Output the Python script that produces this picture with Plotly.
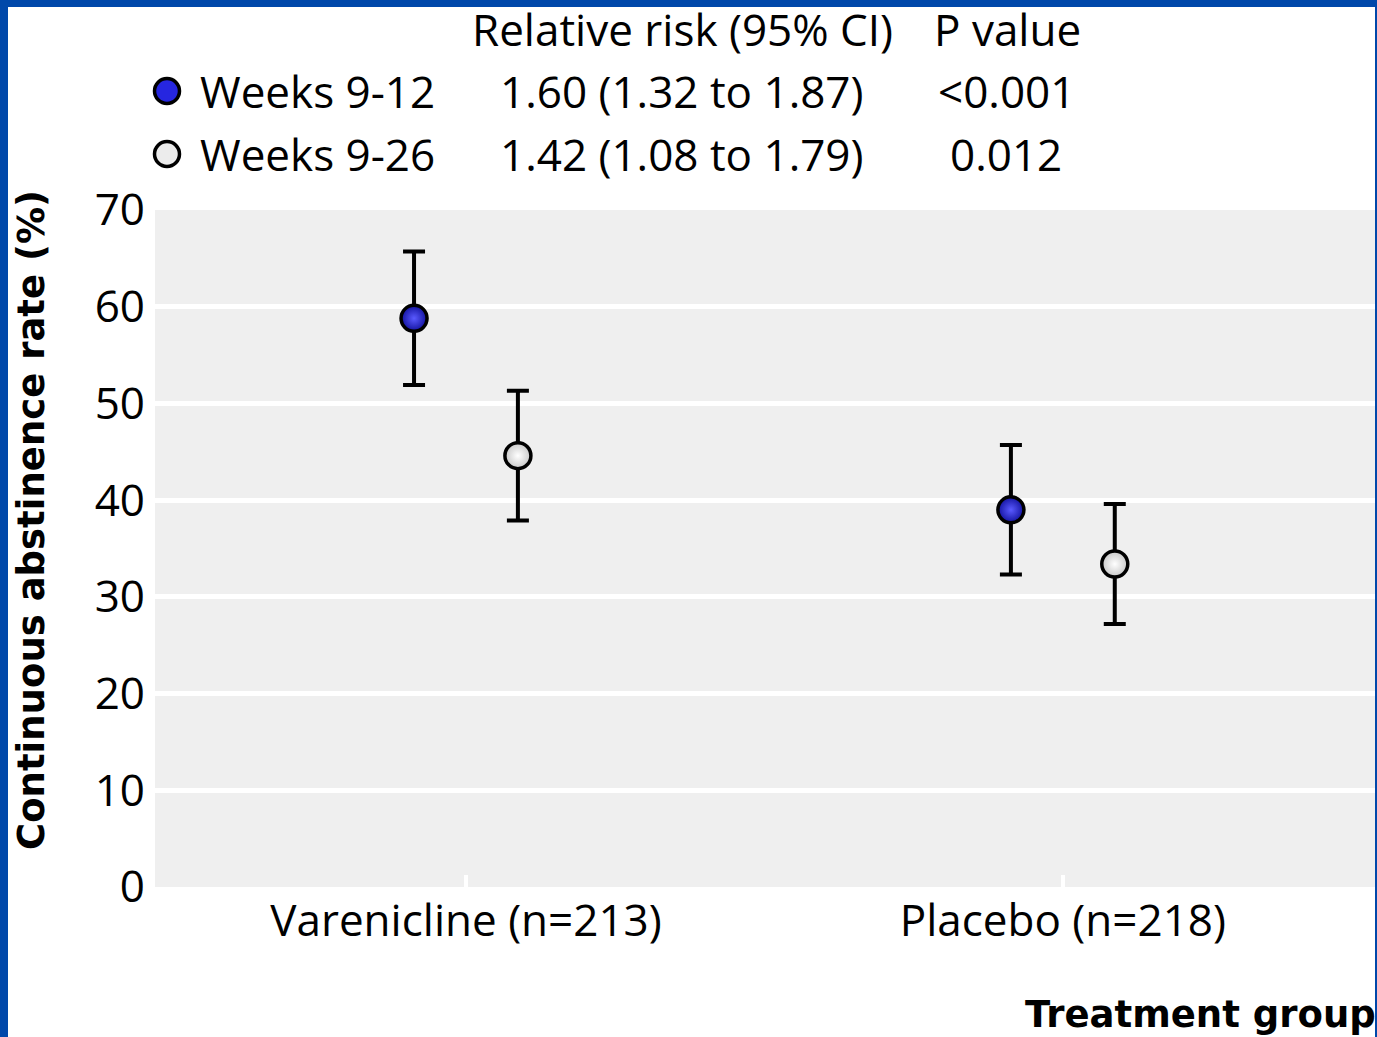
import plotly.graph_objects as go

# ---- data -------------------------------------------------------------
groups = ["Varenicline (n=213)", "Placebo (n=218)"]
series = ["Weeks 9-12", "Weeks 9-26"]
rate_9_12 = [58.8, 39.0]
ci_9_12 = [6.9, 6.7]
rate_9_26 = [44.6, 33.4]
ci_9_26 = [6.7, 6.2]
rr_text = ["1.60 (1.32 to 1.87)", "1.42 (1.08 to 1.79)"]
p_text = ["<0.001", "0.012"]
y_ticks = [0, 10, 20, 30, 40, 50, 60, 70]

# ---- page geometry (pixels) ------------------------------------------
W, H = 1377, 1037
L, R, T, B = 155, 2, 210, 150
PW, PH = W - L - R, H - T - B


def px(x):
    return (x - L) / PW


def py(y):
    return (H - B - y) / PH


TEXT_FONT = "Open Sans"
BOLD_FONT = "DejaVu Sans"
TEXT_SIZE = 44
BORDER = "#0048aa"
dodge = 0.087

# radial shading: edge colour on the marker, highlight in the centre
styles = [
    dict(edge="#12129e", center="#5a5aff", key="#2626e0"),
    dict(edge="#c8c8c8", center="#ffffff", key="#ececec"),
]

fig = go.Figure()
for k, (name, vals, errs) in enumerate(
    [(series[0], rate_9_12, ci_9_12), (series[1], rate_9_26, ci_9_26)]
):
    off = -dodge if k == 0 else dodge
    fig.add_trace(
        go.Scatter(
            x=[i + off for i in range(len(groups))],
            y=vals,
            name=name,
            mode="markers",
            error_y=dict(type="data", array=errs, visible=True,
                         color="black", thickness=4, width=11),
            marker=dict(size=26, color=styles[k]["edge"],
                        gradient=dict(type="radial", color=styles[k]["center"]),
                        line=dict(color="black", width=3.5)),
            showlegend=False,
        )
    )

annotations = []
# header table above the plot
annotations.append(dict(x=px(682), y=py(29), text="Relative risk (95% CI)",
                        xanchor="center", yanchor="middle"))
annotations.append(dict(x=px(1007), y=py(29), text="P value",
                        xanchor="center", yanchor="middle"))
row_y = [91, 154]
for k in range(2):
    annotations.append(dict(x=px(198), y=py(row_y[k]), text=series[k],
                            xanchor="left", yanchor="middle"))
    annotations.append(dict(x=px(682), y=py(row_y[k]), text=rr_text[k],
                            xanchor="center", yanchor="middle"))
    annotations.append(dict(x=px(1006), y=py(row_y[k]), text=p_text[k],
                            xanchor="center", yanchor="middle"))
for a in annotations:
    a.update(xref="paper", yref="paper", showarrow=False,
             font=dict(family=TEXT_FONT, size=TEXT_SIZE, color="black"))

# axis titles
annotations.append(dict(x=px(31), y=py(520), xref="paper", yref="paper",
                        text="<b>Continuous abstinence rate (%)</b>",
                        textangle=-90, showarrow=False,
                        xanchor="center", yanchor="middle",
                        font=dict(family=BOLD_FONT, size=37, color="black")))
annotations.append(dict(x=px(1378), y=py(1015), xref="paper", yref="paper",
                        text="<b>Treatment group</b>", showarrow=False,
                        xanchor="right", yanchor="middle",
                        font=dict(family=BOLD_FONT, size=37, color="black")))

shapes = []
# legend markers in header table
for k in range(2):
    shapes.append(dict(type="circle", xref="paper", yref="paper",
                       xsizemode="pixel", ysizemode="pixel",
                       xanchor=px(167), yanchor=py(row_y[k]),
                       x0=-12.5, x1=12.5, y0=-12.5, y1=12.5,
                       fillcolor=styles[k]["key"],
                       line=dict(color="black", width=3.5), layer="above"))
# blue frame
for x0, x1, y0, y1 in [(0, 8, 0, H), (0, W, 0, 7), (1375, W, 0, H)]:
    shapes.append(dict(type="rect", xref="paper", yref="paper",
                       x0=px(x0), x1=px(x1), y0=py(y1), y1=py(y0),
                       fillcolor=BORDER, line=dict(width=0), layer="above"))

fig.update_layout(
    width=W, height=H,
    margin=dict(l=L, r=R, t=T, b=B, pad=0),
    paper_bgcolor="white",
    plot_bgcolor="#efefef",
    annotations=annotations,
    shapes=shapes,
    showlegend=False,
    xaxis=dict(
        range=[-0.521, 1.523],
        tickvals=list(range(len(groups))),
        ticktext=groups,
        ticks="inside", ticklen=12, tickwidth=4, tickcolor="white",
        ticklabelstandoff=4,
        showgrid=False, zeroline=False, showline=False,
        tickfont=dict(family=TEXT_FONT, size=TEXT_SIZE, color="black"),
        fixedrange=True,
    ),
    yaxis=dict(
        range=[0, 70],
        tickvals=y_ticks,
        ticks="", ticklabelstandoff=9,
        showgrid=True, gridcolor="white", gridwidth=5,
        zeroline=False, showline=False,
        tickfont=dict(family=TEXT_FONT, size=TEXT_SIZE, color="black"),
        fixedrange=True,
    ),
)

fig.write_html("out.html")
